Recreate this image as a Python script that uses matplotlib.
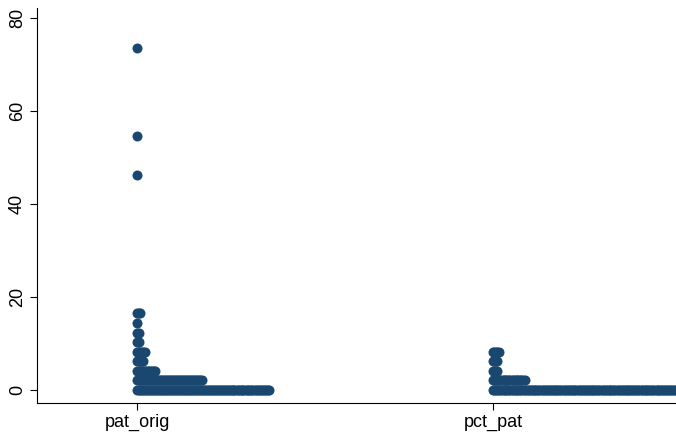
import matplotlib
matplotlib.use("Agg")
import matplotlib.pyplot as plt
import numpy as np

plt.rcParams['font.family'] = ['Liberation Sans', 'DejaVu Sans']

# Data (bin value -> number of dots)
variables = ["pat_orig", "pct_pat"]
pat_orig_levels = [0.0, 2.06, 4.12, 6.18, 8.24, 10.3, 12.36, 14.42, 16.48, 46.2, 54.6, 73.5]
pat_orig_counts = [89, 44, 13, 5, 6, 2, 2, 1, 3, 1, 1, 1]
pct_pat_levels = [0.0, 2.06, 4.12, 6.18, 8.24]
pct_pat_counts = [130, 22, 4, 4, 5]
yticks = [0, 20, 40, 60, 80]

color = "#1a476f"
W, H = 676, 433
fig = plt.figure(figsize=(W / 100, H / 100), dpi=100)
ax = fig.add_axes([37 / W, (H - 403) / H, (676 - 37) / W, (403 - 8) / H])

px_per_cat = 356.0
spacing = 1.5 / px_per_cat
series = [(pat_orig_levels, pat_orig_counts), (pct_pat_levels, pct_pat_counts)]
for i, (levels, counts) in enumerate(series):
    xs, ys = [], []
    for lv, c in zip(levels, counts):
        for k in range(c):
            xs.append(i + k * spacing)
            ys.append(lv)
    ax.scatter(xs, ys, s=52, color=color, linewidths=0, zorder=3)

ax.set_xlim((37 - 137) / px_per_cat, (676 - 137) / px_per_cat)
ax.set_ylim(-2.8, 82.15)
ax.set_xticks(range(len(variables)))
ax.set_xticklabels(variables, fontsize=13)
ax.set_yticks(yticks)
ax.set_yticklabels([str(t) for t in yticks], fontsize=13, rotation=90, va='center')
ax.tick_params(axis='both', direction='out', length=5, width=0.8, color='black', pad=3)
for s in ['top', 'right']:
    ax.spines[s].set_visible(False)
for s in ['left', 'bottom']:
    ax.spines[s].set_linewidth(0.8)

fig.savefig("out.png", dpi=100)
